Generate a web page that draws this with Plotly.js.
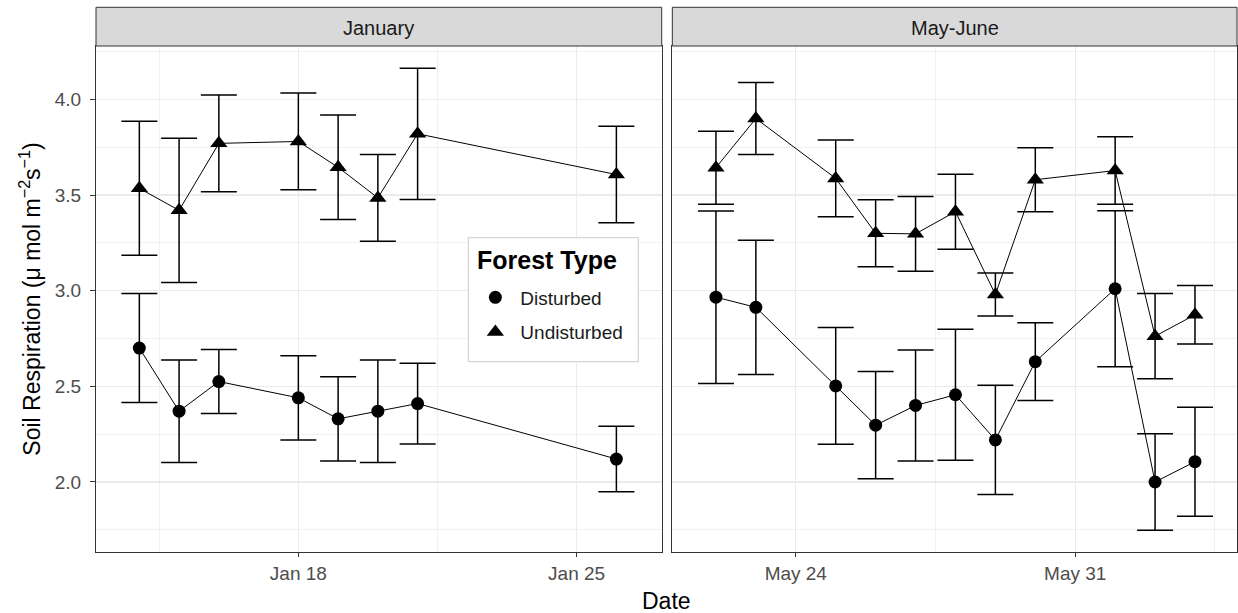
<!DOCTYPE html>
<html>
<head>
<meta charset="utf-8">
<script src="https://cdn.plot.ly/plotly-3.0.1.min.js"></script>
<style>
  html, body { margin: 0; padding: 0; background: #ffffff; }
  #chart { width: 1238px; height: 613px; }
</style>
</head>
<body>
<div id="chart"></div>
<script>
// Soil respiration (mean ± SE) by forest type, two sampling campaigns

// January campaign
const janDates = ['2019-01-14', '2019-01-15', '2019-01-16', '2019-01-18',
                  '2019-01-19', '2019-01-20', '2019-01-21', '2019-01-26'];
const janDisturbed     = [2.70, 2.37, 2.525, 2.44, 2.33, 2.37, 2.41, 2.12];
const janDisturbedSE   = [0.285, 0.268, 0.167, 0.22, 0.22, 0.268, 0.211, 0.171];
const janUndisturbed   = [3.535, 3.42, 3.77, 3.78, 3.645, 3.485, 3.82, 3.607];
const janUndisturbedSE = [0.35, 0.377, 0.253, 0.253, 0.273, 0.227, 0.343, 0.252];

// May-June campaign
const mayDates = ['2019-05-22', '2019-05-23', '2019-05-25', '2019-05-26', '2019-05-27',
                  '2019-05-28', '2019-05-29', '2019-05-30', '2019-06-01', '2019-06-02', '2019-06-03'];
const mayDisturbed     = [2.966, 2.913, 2.502, 2.297, 2.40, 2.456, 2.22, 2.629, 3.01, 2.0, 2.106];
const mayDisturbedSE   = [0.451, 0.351, 0.305, 0.28, 0.29, 0.343, 0.286, 0.203, 0.408, 0.252, 0.285];
const mayUndisturbed   = [3.643, 3.90, 3.587, 3.30, 3.297, 3.413, 2.98, 3.58, 3.628, 2.762, 2.874];
const mayUndisturbedSE = [0.191, 0.188, 0.2, 0.175, 0.195, 0.196, 0.113, 0.167, 0.176, 0.223, 0.153];

// Facet labels and tick labels
const panelNames = ['January', 'May-June'];
const janTickVals = ['2019-01-18', '2019-01-25'];
const janTickText = ['Jan 18', 'Jan 25'];
const janMinorVals = ['2019-01-14 12:00', '2019-01-21 12:00'];
const mayTickVals = ['2019-05-24', '2019-05-31'];
const mayTickText = ['May 24', 'May 31'];
const mayMinorVals = ['2019-05-27 12:00', '2019-06-03 12:00'];
const yTickVals = [2.0, 2.5, 3.0, 3.5, 4.0];
const yTickText = ['2.0', '2.5', '3.0', '3.5', '4.0'];
const yMinorVals = [1.75, 2.25, 2.75, 3.25, 3.75, 4.25];
const legendTitle = 'Forest Type';

const FONT = 'Liberation Sans, Arial, sans-serif';

const groups = [
  { name: 'Disturbed', symbol: 'circle', size: 13,
    jan: [janDisturbed, janDisturbedSE], may: [mayDisturbed, mayDisturbedSE] },
  { name: 'Undisturbed', symbol: 'triangle-up', size: 15,
    jan: [janUndisturbed, janUndisturbedSE], may: [mayUndisturbed, mayUndisturbedSE] }
];

const lineTraces = [];
const pointTraces = [];
groups.forEach(g => {
  [['jan', janDates, 'x', 'y'], ['may', mayDates, 'x2', 'y2']].forEach(([key, dates, xa, ya], i) => {
    const [vals, se] = g[key];
    lineTraces.push({
      type: 'scatter', mode: 'lines', x: dates, y: vals, xaxis: xa, yaxis: ya,
      line: { color: '#000000', width: 1 }, showlegend: false, hoverinfo: 'skip',
      legendgroup: g.name
    });
    pointTraces.push({
      type: 'scatter', mode: 'markers', x: dates, y: vals, xaxis: xa, yaxis: ya,
      name: g.name, legendgroup: g.name, showlegend: i === 0,
      marker: { symbol: g.symbol, size: g.size, color: '#000000' },
      error_y: { type: 'data', array: se, visible: true, color: '#000000', thickness: 1.5, width: 18 }
    });
  });
});

const gridCol = '#EBEBEB';
function xAxis(domain, anchor, range, tickvals, ticktext, minorVals) {
  return {
    domain: domain, anchor: anchor, type: 'date', range: range,
    tickmode: 'array', tickvals: tickvals, ticktext: ticktext,
    ticks: 'outside', ticklen: 4, tickwidth: 1, tickcolor: '#333333',
    tickfont: { family: FONT, size: 19, color: '#4D4D4D' },
    showline: true, mirror: true, linecolor: '#333333', linewidth: 1,
    showgrid: true, gridcolor: gridCol, gridwidth: 1.2, zeroline: false,
    minor: { tickmode: 'array', tickvals: minorVals, showgrid: true, gridcolor: gridCol, gridwidth: 0.7, ticks: '' }
  };
}
function yAxis(extra) {
  return Object.assign({
    range: [1.634, 4.279], tickmode: 'array', tickvals: yTickVals, ticktext: yTickText,
    ticks: 'outside', ticklen: 5, tickwidth: 1, tickcolor: '#333333',
    tickfont: { family: FONT, size: 19, color: '#4D4D4D' },
    showline: true, mirror: true, linecolor: '#333333', linewidth: 1,
    showgrid: true, gridcolor: gridCol, gridwidth: 1.2, zeroline: false,
    minor: { tickmode: 'array', tickvals: yMinorVals, showgrid: true, gridcolor: gridCol, gridwidth: 0.7, ticks: '' }
  }, extra);
}

const leftDomain = [0, 0.4958];
const rightDomain = [0.5051, 1];
const stripTop = 1.0765;

// legend frame (paper coordinates)
const legendBox = { x0: 0.3263, x1: 0.4753, y0: 0.3761, y1: 0.6211 };

const layout = {
  width: 1238, height: 613,
  margin: { l: 96, r: 1, t: 46, b: 61 },
  paper_bgcolor: '#ffffff', plot_bgcolor: '#ffffff',
  font: { family: FONT, color: '#4D4D4D' },
  showlegend: true,
  legend: {
    x: 0.3281, y: 0.5405, xanchor: 'left', yanchor: 'top',
    bgcolor: 'rgba(0,0,0,0)', borderwidth: 0,
    font: { family: FONT, size: 19, color: '#1A1A1A' },
    itemwidth: 40,
    tracegroupgap: 7
  },
  xaxis: xAxis(leftDomain, 'y', ['2019-01-12 21:50', '2019-01-27 03:22'], janTickVals, janTickText, janMinorVals),
  xaxis2: xAxis(rightDomain, 'y2', ['2019-05-20 21:46', '2019-06-04 01:16'], mayTickVals, mayTickText, mayMinorVals),
  yaxis: yAxis({
    anchor: 'x',
    ticklabelstandoff: 5,
    title: {
      text: 'Soil Respiration (\u03bc mol m<sup>\u22122</sup>s<sup>\u22121</sup>)',
      font: { family: FONT, size: 23, color: '#000000' }
    }
  }),
  yaxis2: yAxis({ anchor: 'x2', matches: 'y', showticklabels: false, ticks: '' }),
  shapes: [
    ...[leftDomain, rightDomain].map(d => ({
      type: 'rect', xref: 'paper', yref: 'paper', x0: d[0], x1: d[1], y0: 1, y1: stripTop,
      fillcolor: '#D9D9D9', line: { color: '#333333', width: 1 }, layer: 'above'
    })),
    {
      type: 'rect', xref: 'paper', yref: 'paper',
      x0: legendBox.x0, x1: legendBox.x1, y0: legendBox.y0, y1: legendBox.y1,
      fillcolor: '#ffffff', line: { color: '#CCCCCC', width: 1 }, layer: 'above'
    }
  ],
  annotations: [
    ...panelNames.map((t, i) => {
      const d = i === 0 ? leftDomain : rightDomain;
      return {
        text: t, xref: 'paper', yref: 'paper', x: (d[0] + d[1]) / 2, y: (1 + stripTop) / 2 - 0.003,
        xanchor: 'center', yanchor: 'middle', showarrow: false,
        font: { family: FONT, size: 20, color: '#1A1A1A' }
      };
    }),
    {
      text: '<b>' + legendTitle + '</b>', xref: 'paper', yref: 'paper', x: 0.3322, y: 0.5765,
      xanchor: 'left', yanchor: 'middle', showarrow: false,
      font: { family: FONT, size: 25, color: '#000000' }
    },
    {
      text: 'Date', xref: 'paper', yref: 'paper', x: 0.5, y: -0.097,
      xanchor: 'center', yanchor: 'middle', showarrow: false,
      font: { family: FONT, size: 23, color: '#000000' }
    }
  ]
};

Plotly.newPlot('chart', [...lineTraces, ...pointTraces], layout, { displayModeBar: false, staticPlot: true });
</script>
</body>
</html>
